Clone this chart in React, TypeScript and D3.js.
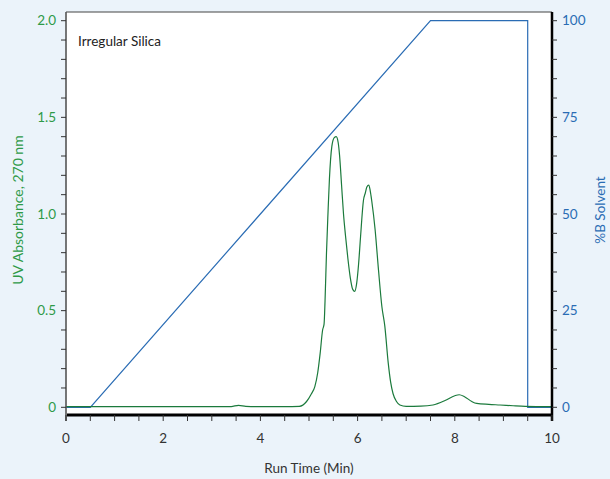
import React from "react";
import * as d3 from "d3";

const uvTime = [0, 1, 2, 3, 3.4, 3.55, 3.7, 4.0, 4.5, 4.8, 4.95, 5.05, 5.12, 5.18, 5.23, 5.28, 5.31, 5.33, 5.36, 5.39, 5.42, 5.47, 5.52, 5.56, 5.6, 5.63, 5.67, 5.71, 5.75, 5.8, 5.85, 5.9, 5.94, 5.98, 6.02, 6.06, 6.12, 6.16, 6.19, 6.23, 6.26, 6.29, 6.36, 6.43, 6.5, 6.56, 6.63, 6.68, 6.73, 6.8, 6.87, 7.0, 7.3, 7.55, 7.8, 8.0, 8.09, 8.2, 8.35, 8.45, 8.7, 8.93, 9.2, 9.45, 10];
const uvAbs = [0.003, 0.003, 0.003, 0.003, 0.004, 0.01, 0.005, 0.003, 0.003, 0.005, 0.03, 0.07, 0.107, 0.18, 0.28, 0.4, 0.43, 0.55, 0.8, 1.0, 1.18, 1.35, 1.395, 1.4, 1.37, 1.3, 1.15, 1.0, 0.89, 0.77, 0.67, 0.61, 0.6, 0.64, 0.74, 0.88, 1.07, 1.11, 1.14, 1.15, 1.12, 1.07, 0.92, 0.71, 0.52, 0.42, 0.23, 0.13, 0.07, 0.03, 0.012, 0.005, 0.006, 0.012, 0.035, 0.06, 0.065, 0.055, 0.03, 0.02, 0.015, 0.012, 0.008, 0.005, 0.003];

const gradTime = [0, 0.5, 7.5, 9.5, 9.5, 10];
const gradB = [0, 0, 100, 100, 0, 0];

const leftTicks = [0, 0.5, 1.0, 1.5, 2.0];
const rightTicks = [0, 25, 50, 75, 100];
const xTicks = [0, 2, 4, 6, 8, 10];

export default function App() {
  const W = 610, H = 479;
  const left = 66, right = 552, top = 12, bottom = 415;
  const x = d3.scaleLinear().domain([0, 10]).range([left, right]);
  const yL = d3.scaleLinear().domain([0, 2]).range([407.3, 20.7]);
  const yR = d3.scaleLinear().domain([0, 100]).range([407.3, 20.7]);

  const uvLine = d3.line<number>().x((_, i) => x(uvTime[i])).y((d) => yL(d)).curve(d3.curveMonotoneX)(uvAbs) || "";
  const gradLine = d3.line<number>().x((_, i) => x(gradTime[i])).y((d) => yR(d))(gradB) || "";

  const leftMinor = d3.range(0, 2.0001, 0.1);
  const rightMinor = d3.range(0, 100.001, 5);
  const xMinor = d3.range(0, 10.001, 0.5);

  const font = "Lato, 'Open Sans', sans-serif";
  const green = "#2e9a48";
  const blue = "#2a6cb4";

  return (
    <svg width={W} height={H} style={{ position: "absolute", left: 0, top: 0 }} fontFamily={font}>
      <rect x={0} y={0} width={W} height={H} fill="#ebf3fa" />
      <rect x={left} y={top} width={right - left} height={bottom - top} fill="#ffffff" />
      <line x1={left} x2={right} y1={top} y2={top} stroke="#444" strokeWidth={1} />

      <path d={gradLine} fill="none" stroke={blue} strokeWidth={1.2} />
      <path d={uvLine} fill="none" stroke="#1b7a3c" strokeWidth={1.2} />

      {/* left axis */}
      <line x1={left} x2={left} y1={top} y2={421} stroke="#555" strokeWidth={1.6} />
      {leftMinor.map((t) => (
        <line key={"lm" + t} x1={left - 5} x2={left} y1={yL(t)} y2={yL(t)} stroke="#333" strokeWidth={1} />
      ))}
      {leftTicks.map((t) => (
        <text key={"lt" + t} x={left - 10} y={yL(t)} dy="0.35em" textAnchor="end" fill={green} fontSize={13.5}>
          {t === 0 ? "0" : t.toFixed(1)}
        </text>
      ))}

      {/* right axis */}
      <line x1={right} x2={right} y1={top} y2={421} stroke="#000" strokeWidth={2.5} />
      {rightMinor.map((t) => (
        <line key={"rm" + t} x1={right} x2={right + 5} y1={yR(t)} y2={yR(t)} stroke="#333" strokeWidth={1} />
      ))}
      {rightTicks.map((t) => (
        <text key={"rt" + t} x={right + 10} y={yR(t)} dy="0.35em" textAnchor="start" fill={blue} fontSize={13.5}>
          {t}
        </text>
      ))}

      {/* bottom axis */}
      <line x1={left + 1} x2={right + 1} y1={bottom} y2={bottom} stroke="#000" strokeWidth={3} />
      {xMinor.map((t) => (
        <line key={"xm" + t} x1={x(t)} x2={x(t)} y1={bottom} y2={421} stroke="#333" strokeWidth={1} />
      ))}
      {xTicks.map((t) => (
        <text key={"xt" + t} x={x(t)} y={438} dy="0.35em" textAnchor="middle" fill="#333" fontSize={13.5}>
          {t}
        </text>
      ))}

      <text x={(left + right) / 2} y={468} dy="0.35em" textAnchor="middle" fill="#333" fontSize={13.5}>
        Run Time (Min)
      </text>
      <text transform={`translate(18,${210}) rotate(-90)`} textAnchor="middle" dy="0.35em" fill={green} fontSize={14}>
        UV Absorbance, 270 nm
      </text>
      <text transform={`translate(600,${210}) rotate(-90)`} textAnchor="middle" dy="0.35em" fill={blue} fontSize={13.5}>
        %B Solvent
      </text>
      <text x={78} y={41} dy="0.35em" fill="#222" fontSize={13.5}>
        Irregular Silica
      </text>
    </svg>
  );
}
